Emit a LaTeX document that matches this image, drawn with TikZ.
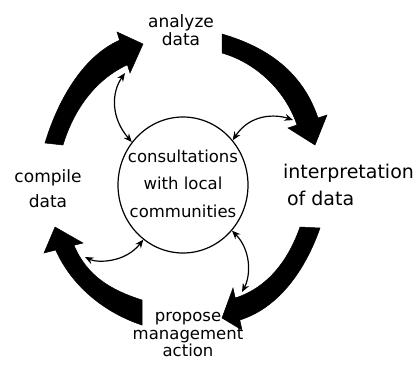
\documentclass[tikz,border=0pt]{standalone}
\usepackage{fontspec}
\setmainfont{DejaVu Sans}
\usetikzlibrary{arrows.meta,shapes.geometric}
\begin{document}
\begin{tikzpicture}[x=1pt,y=-1pt,
  lbl/.style={inner sep=0pt, outer sep=0pt, anchor=base},
  bigarrow/.style={fill=black, draw=black, line width=0.5pt, line join=miter},
  small/.style={line width=1.2pt, {Stealth[length=8.5pt,width=7pt]}-{Stealth[length=8.5pt,width=7pt]}},
]
\useasboundingbox (0,0) rectangle (419,364);

% labels
\node[lbl, font=\fontsize{17}{18}\selectfont] (an) at (181,27)
  {\begin{tabular}[t]{@{}c@{}}analyze\\data\end{tabular}};
\node[lbl, font=\fontsize{17}{25}\selectfont] (cp) at (48,182)
  {\begin{tabular}[t]{@{}c@{}}compile\\data\end{tabular}};
\node[lbl, anchor=base west, font=\fontsize{19}{27}\selectfont] (ip) at (283,178)
  {\begin{tabular}[t]{@{}l@{}}interpretation\\\hspace{4pt}of data\end{tabular}};
\node[inner sep=0pt, outer sep=0pt, anchor=south, align=center,
      font=\fontsize{16.5}{17.5}\selectfont] (pm) at (188,357)
  {propose\\management\\action};

% central circle
\node[draw, ellipse, line width=1.2pt, inner sep=0pt, minimum width=130pt, minimum height=136pt,
      font=\fontsize{16.5}{20}\selectfont] (circ) at (183,185)
  {\makebox[0pt]{\smash{\raisebox{-5.5pt}{\begin{tabular}{@{}c@{}}consultations\\[7pt]with local\\[8pt]communities\end{tabular}}}}};

% big cycle arrows
\fill[bigarrow] (45,143) .. controls (57,103) and (81.5,57) .. (119.6,40.2) -- (117,32) -- (143,44) -- (130,73) -- (127.4,64.8) .. controls (94.7,79.8) and (73.4,110.6) .. (63,145) -- cycle;
\fill[bigarrow] (222,34) .. controls (268,47.4) and (302.6,72.4) .. (318,118) -- (327,115) -- (315,145) -- (288,128) -- (297,125) .. controls (285.5,90.8) and (256.6,63) .. (222,53) -- cycle;
\fill[bigarrow] (320,228) .. controls (306,268) and (280,307.4) .. (239.8,320) -- (242,330) -- (222,318) -- (233,288) -- (235.2,298) .. controls (268,287.5) and (288.5,260) .. (300,227) -- cycle;
\fill[bigarrow] (142,325) .. controls (105,313) and (71.6,286) .. (55.7,250) -- (44,253) -- (55,227) -- (83,243) -- (74,245.3) .. controls (87,276) and (110.6,290) .. (142,300) -- cycle;

% small two-way arrows
\coordinate (s1) at (125,73);
\coordinate (s2) at (293,120);
\coordinate (s3) at (242,292);
\coordinate (s4) at (85,257);
\draw[small] (circ.140) .. controls (111,118) and (111,93) .. (s1);
\draw[small] (circ.42) .. controls (250,114) and (275,114) .. (s2);
\draw[small] (circ.317) .. controls (251,250) and (251,275) .. (s3);
\draw[small] (circ.234) .. controls (125,263) and (97,263) .. (s4);
\end{tikzpicture}
\end{document}
